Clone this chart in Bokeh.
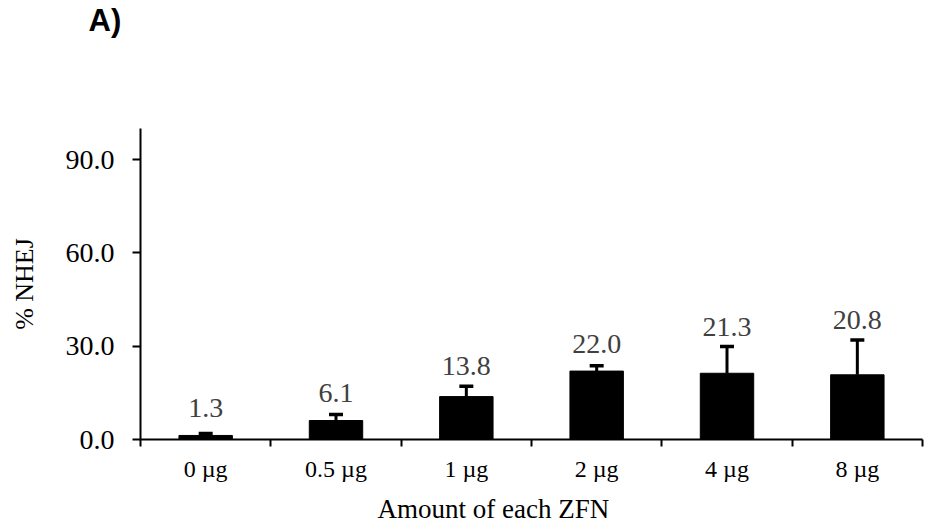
from bokeh.plotting import figure
from bokeh.models import (ColumnDataSource, FixedTicker, Whisker, TeeHead,
                          Title, Range1d)
from bokeh.core.properties import value
from bokeh.embed import file_html
from bokeh.resources import INLINE

# NHEJ frequency by amount of each ZFN
categories = ["0 µg", "0.5 µg", "1 µg", "2 µg", "4 µg", "8 µg"]
nhej = [1.3, 6.1, 13.8, 22.0, 21.3, 20.8]
nhej_err = [0.6, 1.9, 3.3, 1.7, 8.6, 11.2]
y_ticks = [0, 30, 60, 90]

SERIF = "Liberation Serif"

xs = [i + 0.5 for i in range(len(categories))]
tops = [v + e for v, e in zip(nhej, nhej_err)]
# value labels sit above the bar, or above the error bar when it reaches higher
label_y = [max(v + 8.7, t + 6.4) for v, t in zip(nhej, tops)]
labels = [f"{v:.1f}" for v in nhej]

src = ColumnDataSource(dict(x=xs, y=nhej, top=tops, ly=label_y, lab=labels))

# panel tag in the top-left corner
panel_title = Title(text="A)", align="left", offset=-52,
                    text_font="Liberation Sans", text_font_style="bold",
                    text_font_size="31px", text_color="black", standoff=0)

p = figure(width=925, height=531, output_backend="svg", toolbar_location=None,
           x_range=Range1d(0, len(categories)), y_range=Range1d(0, 100),
           min_border_left=140, min_border_right=3,
           min_border_top=128, min_border_bottom=92, title=panel_title)
p.outline_line_color = None
p.xgrid.visible = False
p.ygrid.visible = False
p.background_fill_color = "white"
p.border_fill_color = "white"

# blank spacer between the panel tag and the plot area
p.add_layout(Title(text=" ", text_font_size="1px", standoff=88), "above")

p.vbar(x="x", top="y", width=0.41, bottom=0, source=src,
       fill_color="black", line_color="black")

whisk = Whisker(base="x", lower="y", upper="top", source=src,
                dimension="height", line_color="black", line_width=3,
                upper_head=TeeHead(size=14, line_color="black", line_width=3.5),
                lower_head=None, level="glyph")
p.add_layout(whisk)

p.text(x="x", y="ly", text="lab", source=src, text_align="center",
       text_baseline="alphabetic", text_font=value(SERIF),
       text_font_size="28px", text_color="#404040")

# y axis
ya = p.yaxis[0]
ya.ticker = FixedTicker(ticks=y_ticks)
ya.major_label_overrides = {t: f"{t:.1f}" for t in y_ticks}
ya.major_label_text_font = SERIF
ya.major_label_text_font_size = "28px"
ya.major_label_text_color = "black"
ya.major_label_standoff = 18
ya.major_tick_in = 0
ya.major_tick_out = 8
ya.major_tick_line_width = 2
ya.minor_tick_line_color = None
ya.axis_line_width = 2
ya.axis_label = "% NHEJ"
ya.axis_label_text_font = SERIF
ya.axis_label_text_font_size = "26px"
ya.axis_label_text_font_style = "normal"
ya.axis_label_text_color = "black"
ya.axis_label_standoff = 24

# x axis: labels at category centres, ticks between categories
xa = p.xaxis[0]
xa.ticker = FixedTicker(ticks=xs, minor_ticks=list(range(len(categories) + 1)))
xa.major_label_overrides = {x: c for x, c in zip(xs, categories)}
xa.major_label_text_font = SERIF
xa.major_label_text_font_size = "24px"
xa.major_label_text_color = "black"
xa.major_label_standoff = 9
xa.major_tick_in = 0
xa.major_tick_out = 0
xa.minor_tick_in = 0
xa.minor_tick_out = 7
xa.minor_tick_line_width = 2
xa.minor_tick_line_color = "black"
xa.axis_line_width = 2

p.add_layout(Title(text="Amount of each ZFN", align="left", offset=237,
                   text_font=SERIF, text_font_size="27px",
                   text_font_style="normal", text_color="black",
                   standoff=15), "below")

open("out.html", "w").write(file_html(p, INLINE))
